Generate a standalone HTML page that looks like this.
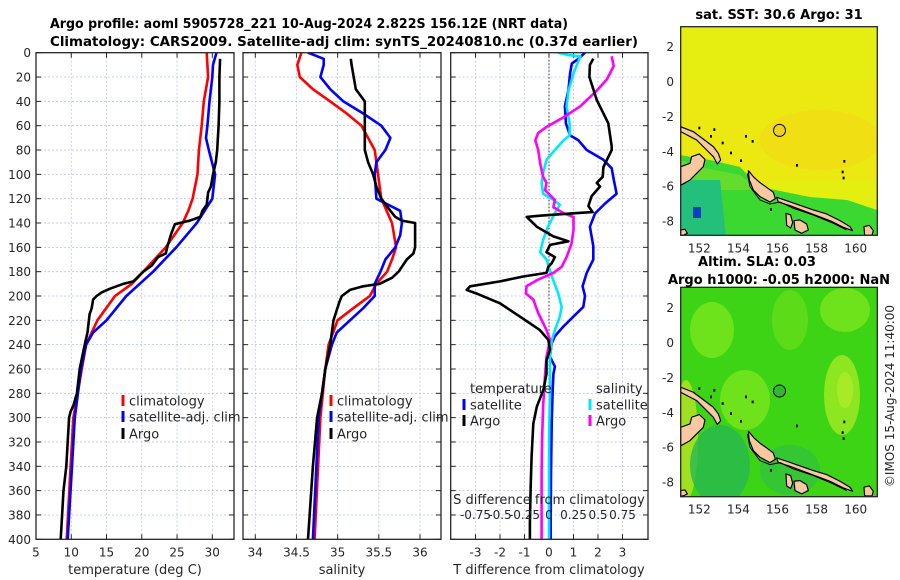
<!DOCTYPE html>
<html><head><meta charset="utf-8"><style>
html,body{margin:0;padding:0;background:#fff;}
svg{display:block;font-family:"DejaVu Sans","Liberation Sans",sans-serif;}
.tk{font-size:12px;fill:#262626;}
.ttl{font-size:13px;font-weight:bold;fill:#000;}
.grid{stroke:#b8c4e0;stroke-width:0.8;stroke-dasharray:2,2;}
.frame{fill:none;stroke:#262626;stroke-width:1.3;}
.lg{font-size:13px;fill:#262626;}
</style></head><body>
<svg id="fig" width="900" height="580" viewBox="0 0 900 580">
<defs>
<clipPath id="c1"><rect x="36" y="52.7" width="198" height="486.6"/></clipPath>
<clipPath id="c2"><rect x="243" y="52.7" width="198" height="486.6"/></clipPath>
<clipPath id="c3"><rect x="450.7" y="52.7" width="197.3" height="486.6"/></clipPath>
<clipPath id="m1"><rect x="680.7" y="26.7" width="196.6" height="208.6"/></clipPath>
<clipPath id="m2"><rect x="680.7" y="287.3" width="196.6" height="209.4"/></clipPath>
</defs>
<text class="ttl" x="50" y="28" textLength="518" lengthAdjust="spacingAndGlyphs">Argo profile: aoml 5905728_221 10-Aug-2024 2.822S 156.12E (NRT data)</text>
<text class="ttl" x="50" y="46" textLength="588" lengthAdjust="spacingAndGlyphs">Climatology: CARS2009. Satellite-adj clim: synTS_20240810.nc (0.37d earlier)</text>
<g id="layer"></g>

<!-- Map 1 -->
<g>
<g clip-path="url(#m1)">
<rect x="680.7" y="26.7" width="196.6" height="208.6" fill="#e4ee10"/>
<rect x="680.7" y="80" width="196.6" height="100" fill="#ece812"/>
<ellipse cx="820" cy="140" rx="60" ry="30" fill="#f2dc14" opacity="0.7"/>
<polygon points="680,155 710,160 740,167 760,187 810,197 847,200 877,210 877,236 680,236" fill="#3cd832"/>
<polygon points="680,160 705,168 740,175 760,190 680,190" fill="#7ee02c" opacity="0.6"/>
<polygon points="681,180 720,180 726,236 681,236" fill="#22c07a"/>
<rect x="693" y="207" width="8" height="11" fill="#1040c0"/>
</g>
<circle cx="779.5" cy="130.4" r="6" fill="#f0d020" stroke="#000" stroke-width="1"/>
<g id="coast1" transform="translate(660,0) scale(0.3333)"></g>
<rect class="frame" x="680.7" y="26.7" width="196.6" height="208.6"/>
<text class="ttl" x="779" y="19" text-anchor="middle">sat. SST: 30.6 Argo: 31</text>
</g>

<!-- Map 2 -->
<g>
<g clip-path="url(#m2)">
<rect x="680.7" y="287.3" width="196.6" height="209.4" fill="#3cd414"/>
<ellipse cx="712" cy="330" rx="22" ry="28" fill="#6ee21a"/>
<ellipse cx="745" cy="400" rx="25" ry="30" fill="#6ee21a"/>
<ellipse cx="790" cy="320" rx="18" ry="30" fill="#5cdc18"/>
<ellipse cx="845" cy="310" rx="25" ry="22" fill="#6ee21a"/>
<ellipse cx="842" cy="395" rx="18" ry="40" fill="#8ee620"/>
<ellipse cx="845" cy="390" rx="8" ry="18" fill="#a8ea28"/>
<ellipse cx="686" cy="440" rx="12" ry="60" fill="#a0e020"/>
<ellipse cx="720" cy="465" rx="30" ry="40" fill="#28b850" opacity="0.8"/>
<ellipse cx="790" cy="470" rx="30" ry="25" fill="#30c040" opacity="0.7"/>
</g>
<circle cx="779.5" cy="391" r="6" fill="#30b830" stroke="#000" stroke-width="1"/>
<g id="coast2" transform="translate(660,260.6) scale(0.3333)"></g>
<rect class="frame" x="680.7" y="287.3" width="196.6" height="209.4"/>
<text class="ttl" x="757" y="266" text-anchor="middle">Altim. SLA: 0.03</text>
<text class="ttl" x="779" y="284" text-anchor="middle">Argo h1000: -0.05 h2000: NaN</text>
</g>
<text class="tk" x="0" y="0" transform="translate(894,396) rotate(-90)" text-anchor="middle">©IMOS 15-Aug-2024 11:40:00</text>
</svg>
<script>
// ---- Panel 1: temperature profiles ----
const tClimDepth=[0,20,40,60,80,100,120,130,140,160,180,190,200,220,240,260,280,300,340,400];
const tClimVal=[29.2,29.4,28.8,28.5,28.1,27.9,27.2,26.6,25.8,23.4,20.2,18.6,16.2,13.7,12.1,11.5,10.9,10.3,9.9,9.35];
const tSatDepth=[0,10,20,40,60,70,80,100,120,140,160,180,200,220,230,240,260,300,340,400];
const tSatVal=[30.6,30.1,30.0,29.6,29.3,29.1,29.5,30.4,30.0,27.8,24.9,21.6,17.8,15.0,13.1,12.1,11.4,10.5,10.1,9.5];
const tArgoDepth=[5,20,40,60,80,90,100,110,115,125,130,135,138,141,150,160,165,168,175,180,188,190,194,197,200,203,210,215,230,240,260,280,290,295,300,340,360,380,400];
const tArgoVal=[31.1,31.0,31.0,30.9,30.7,30.5,30.1,29.8,29.4,29.2,28.6,28.3,26.8,24.7,24.1,23.6,23.4,22.3,21.4,20.2,18.8,17.4,15.5,14.3,13.6,13.1,12.9,12.6,12.3,11.9,11.2,10.8,10.3,9.9,9.7,9.3,8.9,8.7,8.5];
// ---- Panel 2: salinity profiles ----
const sClimDepth=[0,10,20,30,40,50,60,70,80,90,100,120,140,160,170,180,190,200,210,220,240,260,300,400];
const sClimVal=[34.56,34.51,34.54,34.70,34.91,35.11,35.29,35.37,35.45,35.47,35.49,35.53,35.66,35.71,35.66,35.60,35.47,35.39,35.19,35.0,34.89,34.85,34.79,34.72];
const sSatDepth=[0,5,10,20,30,40,50,60,70,80,90,100,120,130,140,150,160,170,180,190,200,210,220,230,240,260,300,400];
const sSatVal=[34.64,34.83,34.83,34.79,34.91,35.07,35.31,35.53,35.64,35.58,35.47,35.45,35.47,35.76,35.78,35.76,35.70,35.58,35.52,35.45,35.45,35.31,35.15,34.99,34.93,34.85,34.77,34.70];
const sArgoDepth=[5,10,30,40,60,80,90,100,110,120,130,135,138,140,160,165,170,180,185,190,192,195,200,205,220,240,260,280,300,340,400];
const sArgoVal=[35.16,35.17,35.22,35.33,35.33,35.33,35.37,35.43,35.47,35.53,35.64,35.70,35.78,35.94,35.94,35.92,35.84,35.74,35.66,35.51,35.31,35.15,35.05,35.02,34.95,34.91,34.85,34.81,34.75,34.70,34.64];
// ---- Panel 3: differences from climatology ----
const dTSatDepth=[0,5,9,17,31,44,58,68,72,80,88,95,105,116,124,132,143,159,170,181,192,200,209,217,225,233,239,250,258,264,277,305,346,387,400];
const dTSatVal=[1.47,1.2,0.93,0.86,0.79,0.65,0.69,0.86,1.2,1.54,2.22,2.56,2.65,2.76,2.29,1.88,1.67,1.81,1.81,1.54,1.37,1.47,1.40,0.99,0.59,0.24,0.11,0.04,0.24,0.18,0.15,0.11,0.08,0.07,0.07];
const dTArgoDepth=[5,10,20,39,58,77,80,94,102,107,110,118,126,131,132,134,135,143,151,155,158,164,168,173,176,181,184,188,192,195,198,206,217,228,236,244,253,264,277,291,305,332,359,387,400];
const dTArgoVal=[1.81,1.67,1.65,1.95,2.42,2.56,2.56,2.22,2.19,1.95,2.08,1.74,1.61,1.78,0.99,-0.37,-0.91,-0.5,0.18,0.79,0.04,-0.1,0.24,0.11,-0.03,-0.1,-1.05,-2.0,-3.22,-3.36,-2.95,-2.0,-1.18,-0.37,-0.03,0.04,-0.1,-0.1,-0.23,-0.5,-0.64,-0.71,-0.75,-0.78,-0.78];
const dSSatDepth=[0,2,3,17,31,44,58,68,72,80,88,99,107,116,121,125,132,143,154,164,170,179,184,198,209,217,228,236,250,277,318,387,400];
const dSSatVal=[0.095,0.2,0.32,0.25,0.2,0.18,0.21,0.21,0.15,0.06,-0.025,-0.06,-0.075,-0.06,0.045,0.11,0.06,-0.01,-0.06,-0.09,-0.025,0.01,0.03,0.095,0.13,0.11,0.06,0.03,0.01,0.01,0.0,0.0,0.0];
const dSArgoDepth=[3,11,22,31,44,53,61,66,72,80,91,102,107,113,121,127,132,135,146,157,168,176,181,187,192,198,203,214,228,236,250,264,291,318,346,387,400];
const dSArgoVal=[0.64,0.66,0.59,0.49,0.32,0.15,-0.025,-0.11,-0.14,-0.11,-0.09,-0.06,-0.025,-0.04,0.06,0.045,0.15,0.25,0.25,0.23,0.18,0.13,0.045,-0.125,-0.23,-0.235,-0.16,-0.11,-0.025,0.01,-0.025,-0.04,-0.06,-0.07,-0.075,-0.075,-0.075];
// ticks
const depthTicks=[0,20,40,60,80,100,120,140,160,180,200,220,240,260,280,300,320,340,360,380,400];
const tTicks=[5,10,15,20,25,30];
const sTicks=[34,34.5,35,35.5,36];
const dTTicks=[-3,-2,-1,0,1,2,3];
const dSTicks=[-0.75,-0.5,-0.25,0,0.25,0.5,0.75];
const latTicks=[2,0,-2,-4,-6,-8];
const lonTicks=[152,154,156,158,160];

const NS='http://www.w3.org/2000/svg';
const layer=document.getElementById('layer');
function mk(tag,attrs,parent){const e=document.createElementNS(NS,tag);for(const k in attrs)e.setAttribute(k,attrs[k]);(parent||layer).appendChild(e);return e;}
const Y0=52.7,Y1=539.3;
const yD=d=>Y0+(d/400)*(Y1-Y0);
function lin(d0,d1,r0,r1){return v=>r0+(v-d0)/(d1-d0)*(r1-r0);}
const xT=lin(5,30,36,212.3);
const xS=lin(34,36,255.3,420);
const xDT=lin(0,3,549,622.5);
const xDS=v=>xDT(v*4);

function panel(name,x0,x1,xs,ticks,fmt,clip){
  const g=mk('g',{});
  
  
  depthTicks.forEach(d=>{
    if(d>0&&d<400){mk('line',{x1:x0,x2:x1,y1:yD(d),y2:yD(d),class:'grid'},g);}
    mk('line',{x1:x0,x2:x0+5,y1:yD(d),y2:yD(d),stroke:'#262626','stroke-width':1},g);
    mk('line',{x1:x1-5,x2:x1,y1:yD(d),y2:yD(d),stroke:'#262626','stroke-width':1},g);
  });
  ticks.forEach(t=>{
    const x=xs(t);
    mk('line',{x1:x,x2:x,y1:Y0,y2:Y1,class:'grid'},g);
    mk('line',{x1:x,x2:x,y1:Y1,y2:Y1-5,stroke:'#262626','stroke-width':1},g);
    mk('line',{x1:x,x2:x,y1:Y0,y2:Y0+5,stroke:'#262626','stroke-width':1},g);
    if(fmt){const tx=mk('text',{x:x,y:Y1+17,class:'tk','text-anchor':'middle'},g);tx.textContent=fmt(t);
      
      }
  });
  return g;
}
function line(g,depths,vals,xs,color,clip,name){
  let d='';depths.forEach((dp,i)=>{d+=(i?'L':'M')+xs(vals[i]).toFixed(1)+','+yD(dp).toFixed(1);});
  const p=mk('path',{d:d,fill:'none',stroke:color,'stroke-width':2.6,'stroke-linejoin':'round','clip-path':'url(#'+clip+')'},g);
  
  
}
function frame(g,x0,x1){mk('rect',{x:x0,y:Y0,width:x1-x0,height:Y1-Y0,class:'frame'},g);}
function txt(g,x,y,s,name,anchor,cls){const t=mk('text',{x:x,y:y,class:cls||'lg','text-anchor':anchor||'start'},g);t.textContent=s;
  
  return t;}
function mark(g,x,y,c,name){const r=mk('rect',{x:x-1.5,y:y-6,width:3,height:11,fill:c},g);
  
  }

// Panel 1
const g1=panel('temperature-panel',36,234,xT,tTicks,String,'c1');
depthTicks.forEach(d=>{txt(g1,31,yD(d)+4.5,String(d),'y-tick-label','end','tk');});
line(g1,tClimDepth,tClimVal,xT,'#ff0000','c1','temp-climatology-line');
line(g1,tSatDepth,tSatVal,xT,'#0000ff','c1','temp-satellite-line');
line(g1,tArgoDepth,tArgoVal,xT,'#000000','c1','temp-argo-line');
frame(g1,36,234);
txt(g1,135,574,'temperature (deg C)','x-axis-title','middle');
mark(g1,123,401,'#ff0000','legend-marker-climatology');txt(g1,129,405.5,'climatology','legend-climatology');
mark(g1,123,417,'#0000ff','legend-marker-satellite');txt(g1,129,421.5,'satellite-adj. clim','legend-satellite-adj');
mark(g1,123,434,'#000000','legend-marker-argo');txt(g1,129,438.5,'Argo','legend-argo');

// Panel 2
const g2=panel('salinity-panel',243,441,xS,sTicks,String,'c2');
line(g2,sClimDepth,sClimVal,xS,'#ff0000','c2','sal-climatology-line');
line(g2,sSatDepth,sSatVal,xS,'#0000ff','c2','sal-satellite-line');
line(g2,sArgoDepth,sArgoVal,xS,'#000000','c2','sal-argo-line');
frame(g2,243,441);
txt(g2,342,574,'salinity','x-axis-title','middle');
mark(g2,331,401,'#ff0000','legend-marker-climatology');txt(g2,337,405.5,'climatology','legend-climatology');
mark(g2,331,417,'#0000ff','legend-marker-satellite');txt(g2,337,421.5,'satellite-adj. clim','legend-satellite-adj');
mark(g2,331,434,'#000000','legend-marker-argo');txt(g2,337,438.5,'Argo','legend-argo');

// Panel 3
const g3=panel('difference-panel',450.7,648,xDT,dTTicks,v=>String(v),'c3');
mk('line',{x1:xDT(0),x2:xDT(0),y1:Y0,y2:Y1,stroke:'#333','stroke-width':1,'stroke-dasharray':'1.5,2'},g3);
line(g3,dTSatDepth,dTSatVal,xDT,'#0000ff','c3','tdiff-satellite-line');
line(g3,dSSatDepth,dSSatVal,xDS,'#00e8ff','c3','sdiff-satellite-line');
line(g3,dSArgoDepth,dSArgoVal,xDS,'#ff00ff','c3','sdiff-argo-line');
line(g3,dTArgoDepth,dTArgoVal,xDT,'#000000','c3','tdiff-argo-line');
frame(g3,450.7,648);
txt(g3,549,574,'T difference from climatology','x-axis-title','middle');
txt(g3,549,504,'S difference from climatology','s-axis-title','middle');
dSTicks.forEach(v=>{txt(g3,xDS(v),519,String(v),'s-tick-label','middle','tk');});
txt(g3,470,393,'temperature','legend-temperature-header');
txt(g3,596,393,'salinity','legend-salinity-header');
mark(g3,464,405,'#0000ff','legend-marker-t-satellite');txt(g3,470,409.5,'satellite','legend-t-satellite');
mark(g3,464,421,'#000000','legend-marker-t-argo');txt(g3,470,425.5,'Argo','legend-t-argo');
mark(g3,590,405,'#00e8ff','legend-marker-s-satellite');txt(g3,596,409.5,'satellite','legend-s-satellite');
mark(g3,590,421,'#ff00ff','legend-marker-s-argo');txt(g3,596,425.5,'Argo','legend-s-argo');

// Map axes
const xLon=lin(152,160,699.3,855.7);
function mapAxes(top,bot,lat2y,latm8y){
  const yL=lin(2,-8,lat2y,latm8y);
  const g=mk('g',{});
  
  
  latTicks.forEach(v=>{const y=yL(v);
    mk('line',{x1:680.7,x2:684.7,y1:y,y2:y,stroke:'#262626'},g);
    mk('line',{x1:873.3,x2:877.3,y1:y,y2:y,stroke:'#262626'},g);
    txt(g,674,y+4.5,String(v),'lat-tick-label','end','tk');});
  lonTicks.forEach(v=>{const x=xLon(v);
    mk('line',{x1:x,x2:x,y1:bot,y2:bot-4,stroke:'#262626'},g);
    mk('line',{x1:x,x2:x,y1:top,y2:top+4,stroke:'#262626'},g);
    txt(g,x,bot+17,String(v),'lon-tick-label','middle','tk');});
}
mapAxes(26.7,235.3,46.7,221);
mapAxes(287.3,496.7,307.7,482);

// Coastlines (decorative, in zoom coordinates)
const coastPolys=[
 '62,380 100,395 140,425 160,440 175,460 182,480 172,492 160,470 140,450 110,420 62,395',
 '62,500 90,490 95,470 118,462 135,478 130,500 110,520 90,540 62,556',
 '265,512 272,520 282,532 300,548 320,562 340,577 346,596 330,606 300,590 280,570 268,540',
 '350,592 380,602 420,616 460,630 500,642 540,662 570,680 578,692 550,682 510,662 470,647 430,632 390,617 355,606',
 '378,640 392,645 398,668 392,684 380,676',
 '402,662 420,660 440,672 445,690 425,700 405,690',
 '612,680 628,676 640,692 636,706 614,706',
 '62,690 75,688 82,700 70,706 62,706'];
const dots=[[115,380],[150,405],[185,425],[210,455],[240,478],[255,405],[275,420],[330,625],[408,492],[550,480],[545,512],[548,530],[160,385]];
['coast1','coast2'].forEach(id=>{
  const g=document.getElementById(id);
  coastPolys.forEach(p=>{const e=mk('polygon',{points:p,fill:'#f8c8a0',stroke:'#000','stroke-width':3.5,'stroke-linejoin':'round'},g);
    
    });
  mk('polyline',{points:'262,520 270,560 300,600 330,612 360,606 400,625 460,645 520,670 560,690',fill:'none',stroke:'#000','stroke-width':3},g);
  dots.forEach(d=>{mk('rect',{x:d[0],y:d[1],width:6,height:8,fill:'#000'},g);});
});
</script>
</body></html>
